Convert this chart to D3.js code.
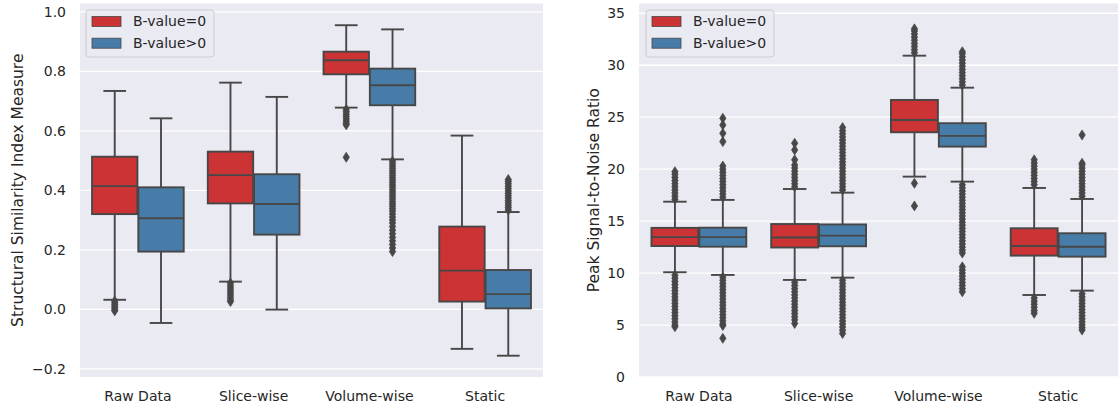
<!DOCTYPE html>
<html>
<head>
<meta charset="utf-8">
<script src="https://cdn.jsdelivr.net/npm/d3@7"></script>
<style>
  html, body { margin: 0; padding: 0; background: #ffffff; }
  svg { display: block; font-family: "DejaVu Sans", sans-serif; }
</style>
</head>
<body>
<svg id="chart" width="1119" height="407"></svg>
<script>
// ---------------- DATA ----------------
const categories = ["Raw Data", "Slice-wise", "Volume-wise", "Static"];
const hues = ["B-value=0", "B-value>0"];

const ssimTicks = [-0.2, 0.0, 0.2, 0.4, 0.6, 0.8, 1.0];
const psnrTicks = [0, 5, 10, 15, 20, 25, 30, 35];

// per category: [lower whisker, Q1, median, Q3, upper whisker]
const ssimZero = [
  [0.032, 0.320, 0.414, 0.513, 0.734],
  [0.093, 0.356, 0.451, 0.530, 0.762],
  [0.678, 0.790, 0.837, 0.866, 0.955],
  [-0.133, 0.026, 0.130, 0.278, 0.584]
];
const ssimPos = [
  [-0.046, 0.194, 0.306, 0.410, 0.642],
  [-0.001, 0.251, 0.354, 0.454, 0.714],
  [0.504, 0.686, 0.753, 0.809, 0.941],
  [-0.156, 0.003, 0.051, 0.132, 0.327]
];
const ssimZeroOut = [
  [0.028, 0.022, 0.016, 0.010, 0.004, -0.002, -0.005],
  [0.088, 0.080, 0.072, 0.064, 0.056, 0.048, 0.040, 0.032, 0.026],
  [0.672, 0.664, 0.656, 0.648, 0.640, 0.632, 0.625, 0.620, 0.511],
  []
];
const ssimPosOut = [
  [],
  [],
  [0.498, 0.490, 0.482, 0.474, 0.466, 0.458, 0.450, 0.442, 0.434, 0.426, 0.418, 0.410,
   0.402, 0.394, 0.386, 0.378, 0.370, 0.362, 0.354, 0.346, 0.338, 0.330, 0.320, 0.310,
   0.300, 0.290, 0.278, 0.266, 0.254, 0.242, 0.230, 0.218, 0.206, 0.194],
  [0.334, 0.342, 0.350, 0.358, 0.366, 0.374, 0.382, 0.390, 0.398, 0.406, 0.414, 0.422, 0.430, 0.436]
];

const psnrZero = [
  [10.08, 12.60, 13.46, 14.35, 16.87],
  [9.34, 12.46, 13.42, 14.72, 18.09],
  [19.28, 23.55, 24.73, 26.66, 30.92],
  [7.89, 11.68, 12.61, 14.31, 18.19]
];
const psnrPos = [
  [9.82, 12.54, 13.46, 14.37, 17.04],
  [9.56, 12.58, 13.60, 14.68, 17.74],
  [18.80, 22.17, 23.20, 24.42, 27.84],
  [8.31, 11.58, 12.54, 13.83, 17.13]
];
const psnrZeroOut = [
  [17.1, 17.4, 17.7, 18.0, 18.3, 18.6, 18.9, 19.2, 19.5, 19.76,
   9.8, 9.5, 9.2, 8.9, 8.6, 8.3, 8.0, 7.7, 7.4, 7.1, 6.8, 6.5, 6.2, 5.9, 5.6, 5.3, 5.0, 4.84],
  [18.3, 18.6, 18.9, 19.2, 19.5, 19.8, 20.1, 20.4, 20.9, 21.85, 22.5,
   9.1, 8.8, 8.5, 8.2, 7.9, 7.6, 7.3, 7.0, 6.7, 6.4, 6.1, 5.8, 5.5, 5.15],
  [31.2, 31.5, 31.8, 32.1, 32.4, 32.7, 33.0, 33.3, 33.5, 18.64, 16.46],
  [18.5, 18.8, 19.1, 19.4, 19.7, 20.0, 20.3, 20.6, 20.9,
   7.6, 7.3, 7.0, 6.7, 6.4, 6.13]
];
const psnrPosOut = [
  [17.3, 17.6, 17.9, 18.2, 18.5, 18.8, 19.1, 19.4, 19.7, 20.0, 20.3, 22.65, 23.45, 24.25, 24.9,
   9.6, 9.3, 9.0, 8.7, 8.4, 8.1, 7.8, 7.5, 7.2, 6.9, 6.6, 6.3, 6.0, 5.7, 5.4, 5.1, 4.95, 3.72],
  [18.0, 18.3, 18.6, 18.9, 19.2, 19.5, 19.8, 20.1, 20.4, 20.7, 21.0, 21.3, 21.6, 21.9, 22.2,
   22.5, 22.8, 23.1, 23.4, 23.7, 24.0,
   9.3, 9.0, 8.7, 8.4, 8.1, 7.8, 7.5, 7.2, 6.9, 6.6, 6.3, 6.0, 5.7, 5.4, 5.1, 4.8, 4.5, 4.19],
  [28.1, 28.4, 28.7, 29.0, 29.3, 29.6, 29.9, 30.2, 30.5, 30.8, 31.1, 31.3,
   18.5, 18.2, 17.9, 17.6, 17.3, 17.0, 16.7, 16.4, 16.1, 15.8, 15.5, 15.2, 14.9, 14.6, 14.3,
   14.0, 13.7, 13.4, 13.1, 12.8, 12.5, 12.2, 11.93,
   10.6, 10.3, 10.0, 9.7, 9.4, 9.1, 8.8, 8.5, 8.2],
  [17.4, 17.7, 18.0, 18.3, 18.6, 18.9, 19.2, 19.5, 19.8, 20.1, 20.4, 20.57, 23.29,
   8.0, 7.7, 7.4, 7.1, 6.8, 6.5, 6.2, 5.9, 5.6, 5.3, 5.0, 4.75, 4.52]
];

// ---------------- STYLE ----------------
const colors = ["#cb3335", "#477ca8"];
const gray = "#474747";
const bg = "#eaeaf2";
const textColor = "#262626";

const svg = d3.select("#chart");

function panel(cfg) {
  const { left, right, top, bottom, domain, ticks, fmt, label, labelX, stats, outs, legendX } = cfg;
  const g = svg.append("g");

  const x = d3.scaleBand().domain(categories).range([left, right]).padding(0);
  const y = d3.scaleLinear().domain(domain).range([bottom, top]);
  const bw = x.bandwidth();
  const hueScale = d3.scaleBand().domain(hues).range([0.1 * bw, 0.9 * bw]).padding(0);
  const boxW = hueScale.bandwidth() * 0.98;

  g.append("rect")
    .attr("x", left).attr("y", top)
    .attr("width", right - left).attr("height", bottom - top)
    .attr("fill", bg);

  // grid
  g.append("g").selectAll("line").data(ticks).join("line")
    .attr("x1", left).attr("x2", right)
    .attr("y1", d => y(d)).attr("y2", d => y(d))
    .attr("stroke", "#ffffff").attr("stroke-width", 1.3);

  // y axis
  const yAxis = d3.axisLeft(y).tickValues(ticks).tickSize(0).tickPadding(14).tickFormat(fmt);
  const ya = g.append("g").attr("transform", `translate(${left},0)`).call(yAxis);
  ya.select(".domain").remove();
  ya.selectAll("text").attr("fill", textColor).style("font-size", "14px")
    .style("font-family", "DejaVu Sans, sans-serif");

  // x axis
  const xAxis = d3.axisBottom(x).tickSize(0).tickPadding(14);
  const xa = g.append("g").attr("transform", `translate(0,${bottom})`).call(xAxis);
  xa.select(".domain").remove();
  xa.selectAll("text").attr("fill", textColor).style("font-size", "14px")
    .style("font-family", "DejaVu Sans, sans-serif");

  // y label
  g.append("text")
    .attr("transform", `translate(${labelX},${(top + bottom) / 2}) rotate(-90)`)
    .attr("text-anchor", "middle")
    .attr("dy", "0.35em")
    .attr("fill", textColor)
    .style("font-size", "15.5px")
    .text(label);

  // boxes
  hues.forEach((h, hi) => {
    categories.forEach((c, ci) => {
      const [lo, q1, med, q3, hiW] = stats[hi][ci];
      const cx = x(c) + hueScale(h) + hueScale.bandwidth() / 2;
      const bg2 = g.append("g");
      // whiskers
      bg2.append("line").attr("x1", cx).attr("x2", cx).attr("y1", y(q3)).attr("y2", y(hiW))
        .attr("stroke", gray).attr("stroke-width", 1.9);
      bg2.append("line").attr("x1", cx).attr("x2", cx).attr("y1", y(q1)).attr("y2", y(lo))
        .attr("stroke", gray).attr("stroke-width", 1.9);
      // caps
      [lo, hiW].forEach(v => {
        bg2.append("line").attr("x1", cx - boxW / 4).attr("x2", cx + boxW / 4)
          .attr("y1", y(v)).attr("y2", y(v))
          .attr("stroke", gray).attr("stroke-width", 1.9);
      });
      // outliers
      bg2.append("g").selectAll("path").data(outs[hi][ci]).join("path")
        .attr("d", d => `M${cx},${y(d) - 5}L${cx + 3.2},${y(d)}L${cx},${y(d) + 5}L${cx - 3.2},${y(d)}Z`)
        .attr("fill", gray).attr("stroke", gray).attr("stroke-width", 0.7);
      // box
      bg2.append("rect")
        .attr("x", cx - boxW / 2).attr("width", boxW)
        .attr("y", y(q3)).attr("height", y(q1) - y(q3))
        .attr("fill", colors[hi]).attr("stroke", gray).attr("stroke-width", 1.9);
      // median
      bg2.append("line").attr("x1", cx - boxW / 2).attr("x2", cx + boxW / 2)
        .attr("y1", y(med)).attr("y2", y(med))
        .attr("stroke", gray).attr("stroke-width", 1.9);
    });
  });

  // legend
  const lg = g.append("g").attr("transform", `translate(${legendX},10)`);
  lg.append("rect").attr("x", 0).attr("y", 0).attr("width", 128).attr("height", 47)
    .attr("rx", 3).attr("fill", bg).attr("fill-opacity", 0.8)
    .attr("stroke", "#cccccc").attr("stroke-width", 1);
  hues.forEach((h, i) => {
    lg.append("rect").attr("x", 6).attr("y", 6.5 + i * 21.7).attr("width", 29).attr("height", 10)
      .attr("fill", colors[i]).attr("stroke", gray).attr("stroke-width", 0.8);
    lg.append("text").attr("x", 47).attr("y", 11.5 + i * 21.7).attr("dy", "0.35em")
      .attr("fill", textColor).style("font-size", "14px").text(h);
  });
}

const fmtSsim = d => (d < 0 ? "\u2212" : "") + Math.abs(d).toFixed(1);

panel({
  left: 80, right: 543, top: 3.5, bottom: 377,
  domain: [-0.2276, 1.028], ticks: ssimTicks, fmt: fmtSsim,
  label: "Structural Similarity Index Measure", labelX: 18,
  stats: [ssimZero, ssimPos], outs: [ssimZeroOut, ssimPosOut], legendX: 86
});

panel({
  left: 639, right: 1118, top: 3.5, bottom: 377,
  domain: [0, 35.94], ticks: psnrTicks, fmt: d3.format("d"),
  label: "Peak Signal-to-Noise Ratio", labelX: 594,
  stats: [psnrZero, psnrPos], outs: [psnrZeroOut, psnrPosOut], legendX: 646
});
</script>
</body>
</html>
